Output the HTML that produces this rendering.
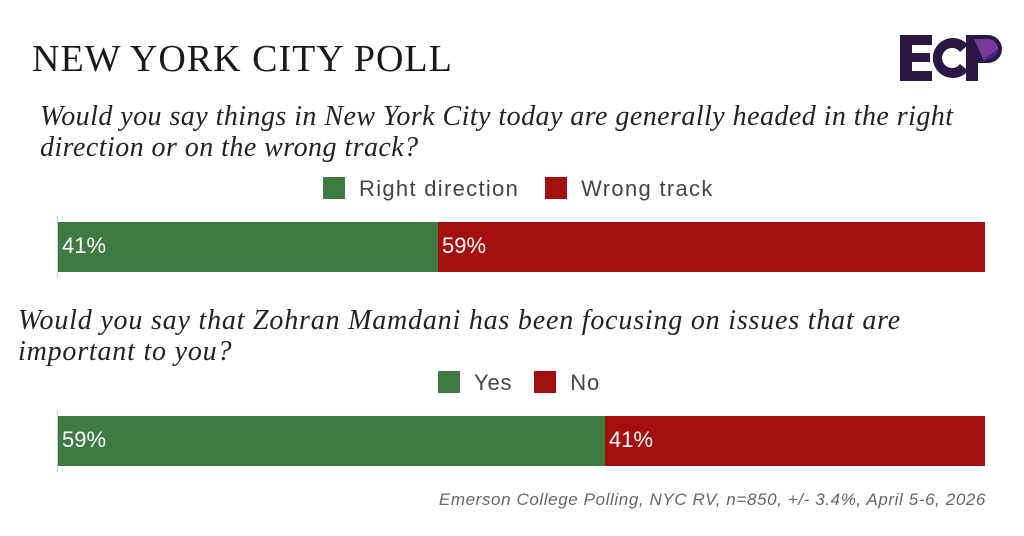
<!DOCTYPE html>
<html><head><meta charset="utf-8"><style>
body{margin:0;width:1024px;height:536px;background:#fff;position:relative;overflow:hidden;font-family:"Liberation Sans",sans-serif}
.a{position:absolute;white-space:nowrap}
.t{font-family:"Liberation Serif",serif;font-size:38px;letter-spacing:1px;color:#1a1a1a;left:32px;top:37px}
.q{font-family:"Liberation Serif",serif;font-style:italic;font-size:28px;color:#222;line-height:31px}
.leg{font-size:22px;letter-spacing:1.3px;color:#444}
.sw{display:inline-block;width:22px;height:22px;vertical-align:-3px;margin-right:14px}
.bar{position:absolute;height:50px}
.lab{font-size:22px;color:#fff;position:absolute;top:11px;left:4px}
.ax{position:absolute;left:57px;width:1px;background:#ccc}
</style></head><body>
<div class="a t">NEW YORK CITY POLL</div>
<svg class="a" style="left:898px;top:33px" width="108" height="50" viewBox="0 0 108 50">
<path d="M2 2h32v10H14v8h18v9H14v9h20v10H2z" fill="#2a1745"/>
<path d="M70 12a20 20 0 1 0 0 26l-8-7a10 10 0 1 1 0-12z" fill="#2a1745"/>
<path d="M68 2h22a14 14 0 0 1 0 28H80v18H68z" fill="#2a1745"/>
<path d="M76 6h14a10 10 0 0 1 10 10L86 28z" fill="#7b3a9b"/>
<path d="M100 16a10 10 0 0 1-10 10h-4z" fill="#3a2a8a"/>
</svg>
<div class="a q" style="left:40px;top:101px;letter-spacing:0.45px">Would you say things in New York City today are generally headed in the right<br>direction or on the wrong track?</div>
<div class="a leg" style="left:323px;top:176px"><span class="sw" style="background:#3f7a43"></span>Right direction<span class="sw" style="background:#a3100f;margin-left:26px"></span>Wrong track</div>
<div class="ax" style="top:216px;height:62px"></div>
<div class="bar" style="left:58px;top:222px;width:380px;background:#3f7a43"><span class="lab">41%</span></div>
<div class="bar" style="left:438px;top:222px;width:547px;background:#a3100f"><span class="lab">59%</span></div>
<div class="a q" style="left:18px;top:305px;letter-spacing:0.8px">Would you say that Zohran Mamdani has been focusing on issues that are<br>important to you?</div>
<div class="a leg" style="left:438px;top:370px;letter-spacing:0.8px"><span class="sw" style="background:#3f7a43"></span>Yes<span class="sw" style="background:#a3100f;margin-left:22px"></span>No</div>
<div class="ax" style="top:410px;height:62px"></div>
<div class="bar" style="left:58px;top:416px;width:547px;background:#3f7a43"><span class="lab">59%</span></div>
<div class="bar" style="left:605px;top:416px;width:380px;background:#a3100f"><span class="lab">41%</span></div>
<div class="a" style="right:38px;top:490px;font-size:17px;letter-spacing:0.6px;font-style:italic;color:#666">Emerson College Polling, NYC RV, n=850, +/- 3.4%, April 5-6, 2026</div>
</body></html>
